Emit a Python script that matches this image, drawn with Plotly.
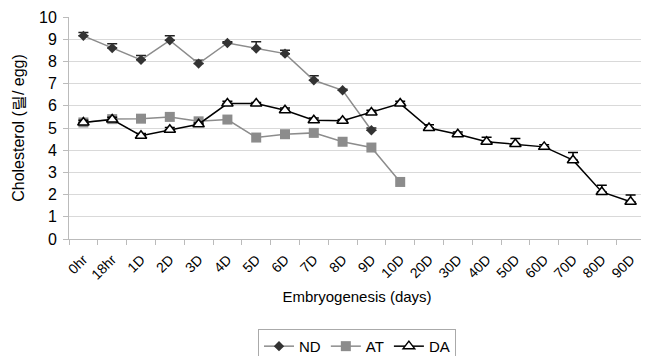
import plotly.graph_objects as go

categories = ["0hr", "18hr", "1D", "2D", "3D", "4D", "5D", "6D", "7D", "8D",
              "9D", "10D", "20D", "30D", "40D", "50D", "60D", "70D", "80D", "90D"]

nd_values = [9.15, 8.6, 8.07, 8.95, 7.9, 8.83, 8.58, 8.35, 7.15, 6.7, 4.9]
nd_err = [0.15, 0.2, 0.2, 0.2, 0.15, 0.05, 0.3, 0.15, 0.2, 0.05, 0.1]

at_values = [5.25, 5.4, 5.42, 5.5, 5.3, 5.38, 4.57, 4.72, 4.78, 4.38, 4.12, 2.57]
at_err = [0.05, 0.05, 0.05, 0.05, 0.05, 0.05, 0.05, 0.05, 0.05, 0.05, 0.05, 0.05]

da_values = [5.25, 5.38, 4.65, 4.92, 5.17, 6.1, 6.1, 5.8, 5.35, 5.33, 5.7, 6.1,
             5.0, 4.72, 4.38, 4.28, 4.15, 3.55, 2.12, 1.68]
da_err = [0.1, 0.1, 0.1, 0.1, 0.05, 0.1, 0.05, 0.1, 0.1, 0.05, 0.1, 0.1,
          0.15, 0.1, 0.2, 0.25, 0.1, 0.35, 0.3, 0.3]

font = "Liberation Sans, Arial, sans-serif"

fig = go.Figure()
fig.add_trace(go.Scatter(
    x=categories[:len(nd_values)], y=nd_values, name="ND", mode="lines+markers",
    line=dict(color="#8c8c8c", width=1.5),
    marker=dict(symbol="diamond", size=8, color="#333333"),
    error_y=dict(type="data", symmetric=False, array=nd_err,
                 arrayminus=[0] * len(nd_err), color="#222222", thickness=1.5, width=5),
))
fig.add_trace(go.Scatter(
    x=categories[:len(at_values)], y=at_values, name="AT", mode="lines+markers",
    line=dict(color="#8c8c8c", width=1.5),
    marker=dict(symbol="square", size=10, color="#8c8c8c"),
    error_y=dict(type="data", symmetric=False, array=at_err,
                 arrayminus=[0] * len(at_err), color="#666666", thickness=1, width=4),
))
fig.add_trace(go.Scatter(
    x=categories, y=da_values, name="DA", mode="lines+markers",
    line=dict(color="#000000", width=1.5),
    marker=dict(symbol="triangle-up", size=10, color="white",
                line=dict(color="black", width=1.5)),
    error_y=dict(type="data", symmetric=False, array=da_err,
                 arrayminus=[0] * len(da_err), color="#000000", thickness=1.5, width=5),
))

fig.update_layout(
    width=649, height=356,
    margin=dict(l=61, r=12, t=9, b=125, autoexpand=False),
    paper_bgcolor="white", plot_bgcolor="white",
    font=dict(family=font, color="black"),
    showlegend=True,
    legend=dict(orientation="h", x=0.5, xanchor="center", y=-0.405, yanchor="top",
                bordercolor="#aaaaaa", borderwidth=1, font=dict(size=15, color="black"),
                itemwidth=30, tracegroupgap=0),
)
fig.update_xaxes(
    type="category", categoryorder="array", categoryarray=categories,
    range=[-0.5, 19.5], automargin=False,
    tickangle=-45, tickfont=dict(size=14, color="black"), ticklabelstandoff=6,
    ticks="outside", tickson="boundaries", ticklen=5, tickcolor="#bbbbbb",
    showgrid=False, showline=True, linecolor="#bbbbbb",
    title=dict(text="Embryogenesis (days)", font=dict(size=15, color="black"), standoff=9),
)
fig.update_yaxes(
    range=[0, 10], dtick=1, automargin=False,
    tickfont=dict(size=16, color="black"), ticklabelstandoff=3,
    ticks="outside", ticklen=5, tickcolor="#bbbbbb",
    showgrid=True, gridcolor="#d9d9d9", gridwidth=1,
    showline=True, linecolor="#bbbbbb", mirror=True, zeroline=False,
    title=dict(text="Cholesterol (릴/ egg)", font=dict(size=16, color="black"), standoff=10),
)

fig.write_html("out.html")
